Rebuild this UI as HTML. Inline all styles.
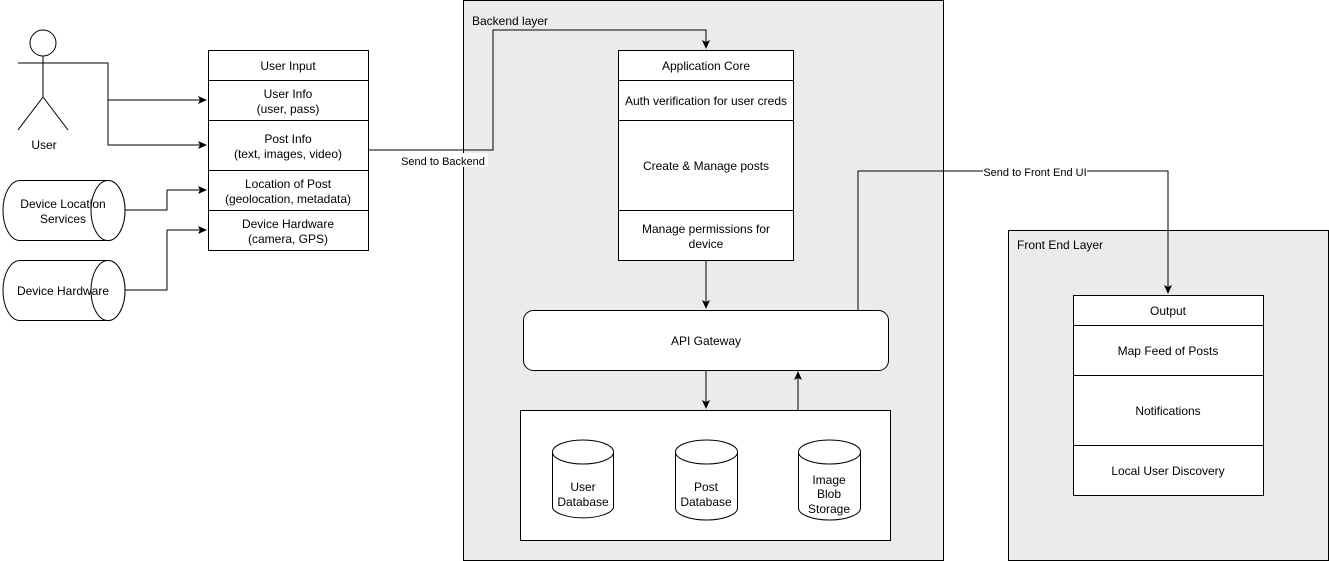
<!DOCTYPE html>
<html><head><style>body{margin:0;background:#fff}svg{display:block}text{font-family:"Liberation Sans",Arial,sans-serif;font-size:12px;fill:#000}</style></head>
<body>
<svg width="1329" height="561" viewBox="0 0 1329 561" xmlns="http://www.w3.org/2000/svg">
<defs><marker id="a" markerWidth="10" markerHeight="10" refX="8" refY="5" orient="auto" markerUnits="userSpaceOnUse"><path d="M0,1 L9,5 L0,9 L2,5 Z" fill="#000"/></marker></defs>
<rect x="463.5" y="0.5" width="480" height="560" fill="#ebebeb" stroke="#000"/>
<text x="472" y="25">Backend layer</text>
<rect x="1008.5" y="230.5" width="320" height="330" fill="#ebebeb" stroke="#000"/>
<text x="1017" y="249">Front End Layer</text>
<g fill="none" stroke="#000">
<circle cx="43" cy="43" r="13" fill="#fff"/>
<path d="M43,56 V97 M18,63 H68 M43,97 L18,130 M43,97 L68,130"/>
<path d="M68,63 H108 V100 H206" marker-end="url(#a)"/>
<path d="M108,100 V145 H206" marker-end="url(#a)"/>
<path d="M125,210 H167 V190 H206" marker-end="url(#a)"/>
<path d="M125,290 H167 V230 H206" marker-end="url(#a)"/>
<path d="M368,150 H493 V30 H706 V48" marker-end="url(#a)"/>
<path d="M706,260 V308" marker-end="url(#a)"/>
<path d="M706,370 V408" marker-end="url(#a)"/>
<path d="M798,410 V372" marker-end="url(#a)"/>
<path d="M858,310 V171 H1168 V293" marker-end="url(#a)"/>
</g>
<text x="44" y="149" text-anchor="middle">User</text>
<g stroke="#000" fill="#fff">
<path d="M20,180.5 H108 A17,30 0 0 1 108,240.5 H20 A17,30 0 0 1 20,180.5 Z"/>
<ellipse cx="108" cy="210.5" rx="17" ry="30"/>
<path d="M20,260.5 H108 A17,30 0 0 1 108,320.5 H20 A17,30 0 0 1 20,260.5 Z"/>
<ellipse cx="108" cy="290.5" rx="17" ry="30"/>
</g>
<text x="63" y="208" text-anchor="middle">Device Location</text>
<text x="63" y="223" text-anchor="middle">Services</text>
<text x="63" y="295" text-anchor="middle">Device Hardware</text>
<g stroke="#000" fill="#fff">
<rect x="208.5" y="50.5" width="160" height="200"/>
<path d="M208.5,80.5 H368.5 M208.5,120.5 H368.5 M208.5,170.5 H368.5 M208.5,210.5 H368.5" fill="none"/>
</g>
<g text-anchor="middle">
<text x="288" y="70">User Input</text>
<text x="288" y="98">User Info</text><text x="288" y="113">(user, pass)</text>
<text x="288" y="143">Post Info</text><text x="288" y="158">(text, images, video)</text>
<text x="288" y="188">Location of Post</text><text x="288" y="203">(geolocation, metadata)</text>
<text x="288" y="228">Device Hardware</text><text x="288" y="243">(camera, GPS)</text>
</g>
<rect x="398" y="153" width="90" height="14" fill="#fff"/>
<text x="443" y="165" text-anchor="middle" style="font-size:11px">Send to Backend</text>
<g stroke="#000" fill="#fff">
<rect x="618.5" y="50.5" width="175" height="210"/>
<path d="M618.5,80.5 H793.5 M618.5,120.5 H793.5 M618.5,210.5 H793.5" fill="none"/>
<rect x="523.5" y="310.5" width="365" height="60" rx="10"/>
<rect x="520.5" y="410.5" width="370" height="130"/>
</g>
<g text-anchor="middle">
<text x="706" y="70">Application Core</text>
<text x="706" y="105">Auth verification for user creds</text>
<text x="706" y="170">Create &amp; Manage posts</text>
<text x="706" y="233">Manage permissions for</text><text x="706" y="248">device</text>
<text x="706" y="345">API Gateway</text>
</g>
<g stroke="#000" fill="#fff">
<path d="M552.5,452 V508 A31,12 0 0 0 613.5,508 V452"/><ellipse cx="583" cy="452" rx="30.5" ry="12"/>
<path d="M675.5,452 V508 A31,12 0 0 0 737.5,508 V452"/><ellipse cx="706.5" cy="452" rx="31" ry="12"/>
<path d="M798.5,452 V508 A31,12 0 0 0 860.5,508 V452"/><ellipse cx="829.5" cy="452" rx="31" ry="12"/>
</g>
<g text-anchor="middle">
<text x="583" y="491">User</text><text x="583" y="506">Database</text>
<text x="706" y="491">Post</text><text x="706" y="506">Database</text>
<text x="829" y="484">Image</text><text x="829" y="498">Blob</text><text x="829" y="513">Storage</text>
</g>
<rect x="983" y="165" width="104" height="14" fill="#fff"/>
<text x="1035" y="176" text-anchor="middle" style="font-size:11px">Send to Front End UI</text>
<g stroke="#000" fill="#fff">
<rect x="1073.5" y="295.5" width="190" height="200"/>
<path d="M1073.5,325.5 H1263.5 M1073.5,375.5 H1263.5 M1073.5,445.5 H1263.5" fill="none"/>
</g>
<g text-anchor="middle">
<text x="1168" y="315">Output</text>
<text x="1168" y="355">Map Feed of Posts</text>
<text x="1168" y="415">Notifications</text>
<text x="1168" y="475">Local User Discovery</text>
</g>
</svg>
</body></html>
